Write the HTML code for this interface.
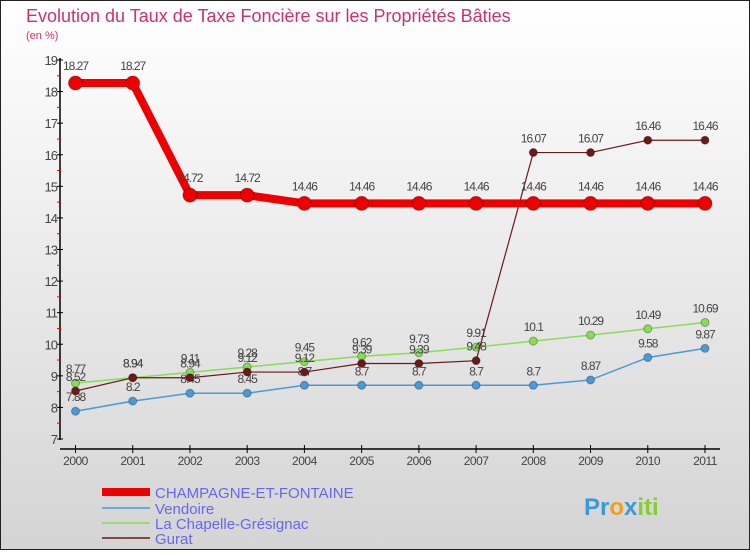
<!DOCTYPE html>
<html><head><meta charset="utf-8"><style>
body{margin:0;width:750px;height:550px;overflow:hidden;font-family:"Liberation Sans",sans-serif}
</style></head><body>
<svg id="c" width="750" height="550" xmlns="http://www.w3.org/2000/svg">
<defs><linearGradient id="bg" x1="0" y1="0" x2="0" y2="1"><stop offset="0" stop-color="#ffffff"/><stop offset="1" stop-color="#d4d4d4"/></linearGradient></defs>
<rect x="0.5" y="0.5" width="749" height="549" fill="url(#bg)" stroke="#222"/>
<text x="26" y="22" font-size="18" fill="#d0306e">Evolution du Taux de Taxe Foncière sur les Propriétés Bâties</text>
<text x="26" y="39" font-size="11" fill="#d0306e">(en %)</text>
<g id="axes"></g><g id="series"></g>
<g>
<line x1="102" y1="492" x2="150" y2="492" stroke="#ee0000" stroke-width="8"/>
<text x="155" y="498" font-size="15" fill="#6666ee">CHAMPAGNE-ET-FONTAINE</text>
<line x1="102" y1="508" x2="150" y2="508" stroke="#4a9ad8" stroke-width="1.5"/>
<text x="155" y="514" font-size="15" fill="#6666ee">Vendoire</text>
<line x1="102" y1="523" x2="150" y2="523" stroke="#88dd55" stroke-width="1.5"/>
<text x="155" y="529" font-size="15" fill="#6666ee">La Chapelle-Grésignac</text>
<line x1="102" y1="538" x2="150" y2="538" stroke="#6a1a1a" stroke-width="1.5"/>
<text x="155" y="544" font-size="15" fill="#6666ee">Gurat</text>
</g>
<text x="584" y="515" font-size="24" font-weight="bold" fill="#3a9ad8">Pr<tspan fill="#f0a020">o</tspan><tspan fill="#3a9ad8">x</tspan><tspan fill="#88cc33">iti</tspan></text>
</svg>
<script>
const years=["2000","2001","2002","2003","2004","2005","2006","2007","2008","2009","2010","2011"];
const yTicks=[7,8,9,10,11,12,13,14,15,16,17,18,19];
const champagne=[18.27,18.27,14.72,14.72,14.46,14.46,14.46,14.46,14.46,14.46,14.46,14.46];
const vendoire=[7.88,8.2,8.45,8.45,8.7,8.7,8.7,8.7,8.7,8.87,9.58,9.87];
const chapelle=[8.77,8.94,9.11,9.28,9.45,9.62,9.73,9.91,10.1,10.29,10.49,10.69];
const gurat=[8.52,8.94,8.94,9.12,9.12,9.39,9.39,9.48,16.07,16.07,16.46,16.46];
const NS="http://www.w3.org/2000/svg";
const X=i=>75.5+i*(705-75.5)/11;
const Y=v=>439-(v-7)*(379/12);
function mk(t,a,p){const e=document.createElementNS(NS,t);for(const k in a)e.setAttribute(k,a[k]);p.appendChild(e);return e;}
const ax=document.getElementById('axes');
let l=mk('line',{x1:60,y1:58,x2:60,y2:440,stroke:'#000','stroke-width':1.5},ax);


l=mk('line',{x1:60,y1:449,x2:720,y2:449,stroke:'#000','stroke-width':1.5},ax);


yTicks.forEach(v=>{
 mk('line',{x1:57,y1:Y(v),x2:63,y2:Y(v),stroke:'#000'},ax);
 if(v<19)mk('line',{x1:57,y1:Y(v+0.5),x2:61,y2:Y(v+0.5),stroke:'#e00'},ax);
 const t=mk('text',{x:57,y:Y(v)+5,'font-size':13,fill:'#444','text-anchor':'end','letter-spacing':'-1'},ax);
 t.textContent=v;
 
 
});
years.forEach((y,i)=>{
 mk('line',{x1:X(i),y1:445,x2:X(i),y2:453,stroke:'#000'},ax);
 const t=mk('text',{x:X(i),y:465,'font-size':12,fill:'#444','text-anchor':'middle','letter-spacing':'-0.5'},ax);
 t.textContent=y;
 
 
});
const sg=document.getElementById('series');
function draw(data,color,w,r,name,dy){
 const g=mk('g',{},sg);
 
 
 mk('polyline',{points:data.map((v,i)=>X(i)+','+Y(v)).join(' '),fill:'none',stroke:color,'stroke-width':w},g);
 data.forEach((v,i)=>{
  const c=mk('circle',{cx:X(i),cy:Y(v),r:r,fill:color,stroke:'rgba(0,0,0,0.3)'},g);
  
  
  const t=mk('text',{x:X(i),y:Y(v)+dy,'font-size':12,fill:'#444','text-anchor':'middle','letter-spacing':'-1'},g);
  t.textContent=v;
 });
}
draw(vendoire,'#4a9ad8',1.5,4,'vendoire-series',-10);
draw(chapelle,'#88dd55',1.5,4,'la-chapelle-series',-10);
draw(gurat,'#6a1a1a',1.2,4,'gurat-series',-10);
draw(champagne,'#ee0000',8,7,'champagne-series',-13);
</script>
</body></html>
